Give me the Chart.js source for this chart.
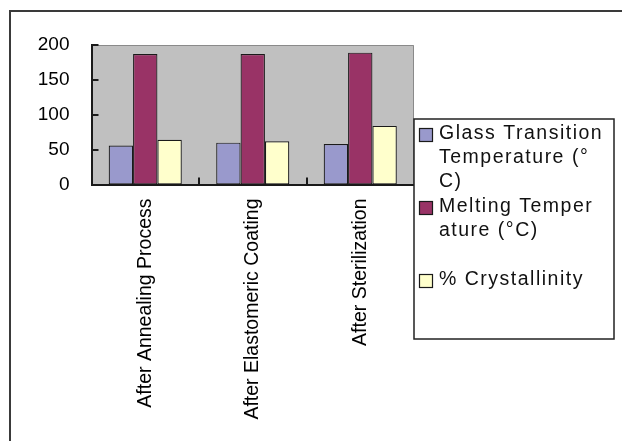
<!DOCTYPE html>
<html>
<head>
<meta charset="utf-8">
<script src="https://cdn.jsdelivr.net/npm/chart.js@4/dist/chart.umd.min.js"></script>
<style>
  html, body { margin: 0; padding: 0; background: #ffffff; }
  #wrap { position: relative; width: 622px; height: 441px; }
</style>
</head>
<body>
<div id="wrap"><canvas id="chart" width="622" height="441"></canvas></div>
<script>
// Process stages along the x axis
const categories = ['After Annealing Process', 'After Elastomeric Coating', 'After Sterilization'];

// Series values per stage
const glassTransition = [56, 60, 58];
const meltingTemp = [187, 187, 189];
const crystallinity = [64, 62, 84];

// Series names and their wrapped legend lines
const seriesNames = ['Glass Transition Temperature (°C)', 'Melting Temperature (°C)', '% Crystallinity'];
const legendLines = [
  ['Glass Transition', 'Temperature (°', 'C)'],
  ['Melting Temper', 'ature (°C)'],
  ['% Crystallinity']
];

// Value axis ticks
const yTicks = [0, 50, 100, 150, 200];

const colors = ['#9999cc', '#993366', '#ffffcc'];
const FONT = '"Liberation Sans", Arial, sans-serif';

// Grey plot background
const plotBackground = {
  id: 'plotBackground',
  beforeDraw(chart) {
    const { ctx, chartArea: a } = chart;
    ctx.save();
    ctx.fillStyle = '#c0c0c0';
    ctx.fillRect(a.left, a.top, a.right - a.left, a.bottom - a.top);
    ctx.strokeStyle = '#8a8a8a';
    ctx.lineWidth = 1;
    ctx.beginPath();
    ctx.moveTo(a.left, a.top + 0.5);
    ctx.lineTo(a.right - 0.5, a.top + 0.5);
    ctx.lineTo(a.right - 0.5, a.bottom);
    ctx.stroke();
    ctx.restore();
  }
};

// Inner tick marks, legend box and outer frame
const decorations = {
  id: 'decorations',
  afterDraw(chart) {
    const { ctx, chartArea: a, scales } = chart;
    const y = scales.y, x = scales.x;
    ctx.save();
    ctx.strokeStyle = '#1a1a1a';
    ctx.lineWidth = 2;
    ctx.beginPath();
    yTicks.forEach(v => {
      if (v === 0) return;
      const py = Math.round(y.getPixelForValue(v));
      ctx.moveTo(a.left, py);
      ctx.lineTo(a.left + 7, py);
    });
    for (let i = 0; i < categories.length - 1; i++) {
      const px = Math.round((x.getPixelForValue(i) + x.getPixelForValue(i + 1)) / 2);
      ctx.moveTo(px, a.bottom);
      ctx.lineTo(px, a.bottom - 7);
    }
    ctx.stroke();

    // Legend box
    const lx = 414, ly = 119, lw = 200, lh = 220;
    ctx.fillStyle = '#ffffff';
    ctx.fillRect(lx, ly, lw, lh);
    ctx.strokeStyle = '#222222';
    ctx.lineWidth = 1.5;
    ctx.strokeRect(lx, ly, lw, lh);

    ctx.font = '19.5px ' + FONT;
    ctx.textBaseline = 'middle';
    ctx.textAlign = 'left';
    if ('letterSpacing' in ctx) ctx.letterSpacing = '1.5px';
    chart.data.datasets.forEach((ds, i) => {
      const top = 134 + i * 73;
      ctx.fillStyle = ds.backgroundColor;
      ctx.fillRect(419.5, top - 5.5, 13, 13);
      ctx.strokeStyle = '#1a1a1a';
      ctx.lineWidth = 1.2;
      ctx.strokeRect(419.5, top - 5.5, 13, 13);
      ctx.fillStyle = '#111111';
      legendLines[i].forEach((line, k) => {
        ctx.fillText(line, 439, top + k * 24);
      });
    });
    if ('letterSpacing' in ctx) ctx.letterSpacing = '0px';

    // Outer frame (top and left edges)
    ctx.strokeStyle = '#3a3a3a';
    ctx.lineWidth = 2;
    ctx.beginPath();
    ctx.moveTo(10, 441);
    ctx.lineTo(10, 11);
    ctx.lineTo(622, 11);
    ctx.stroke();
    ctx.restore();
  }
};

const datasets = [glassTransition, meltingTemp, crystallinity].map((vals, i) => ({
  label: seriesNames[i],
  data: vals,
  backgroundColor: colors[i],
  borderColor: '#1a1a1a',
  borderWidth: 1.2,
  borderSkipped: false,
  categoryPercentage: 0.68,
  barPercentage: 1.0
}));

new Chart(document.getElementById('chart'), {
  type: 'bar',
  data: { labels: categories, datasets },
  options: {
    responsive: false,
    animation: false,
    devicePixelRatio: 1,
    layout: { padding: { left: 0, top: 45, right: 208, bottom: 0 } },
    plugins: { legend: { display: false }, tooltip: { enabled: false } },
    scales: {
      x: {
        grid: { display: false, drawTicks: false },
        border: { display: true, color: '#1a1a1a', width: 2 },
        ticks: {
          color: '#000000',
          font: { family: FONT, size: 19.5 },
          minRotation: 90,
          maxRotation: 90,
          autoSkip: false,
          padding: 14
        },
        afterFit(scale) { scale.height = 441 - 184.5; }
      },
      y: {
        min: 0,
        max: 200,
        afterBuildTicks(scale) { scale.ticks = yTicks.map(v => ({ value: v })); },
        grid: { display: false, drawTicks: false },
        border: { display: true, color: '#1a1a1a', width: 2 },
        ticks: {
          color: '#000000',
          font: { family: FONT, size: 19 },
          padding: 22
        },
        afterFit(scale) { scale.width = 91.5; }
      }
    }
  },
  plugins: [plotBackground, decorations]
});
</script>
</body>
</html>
